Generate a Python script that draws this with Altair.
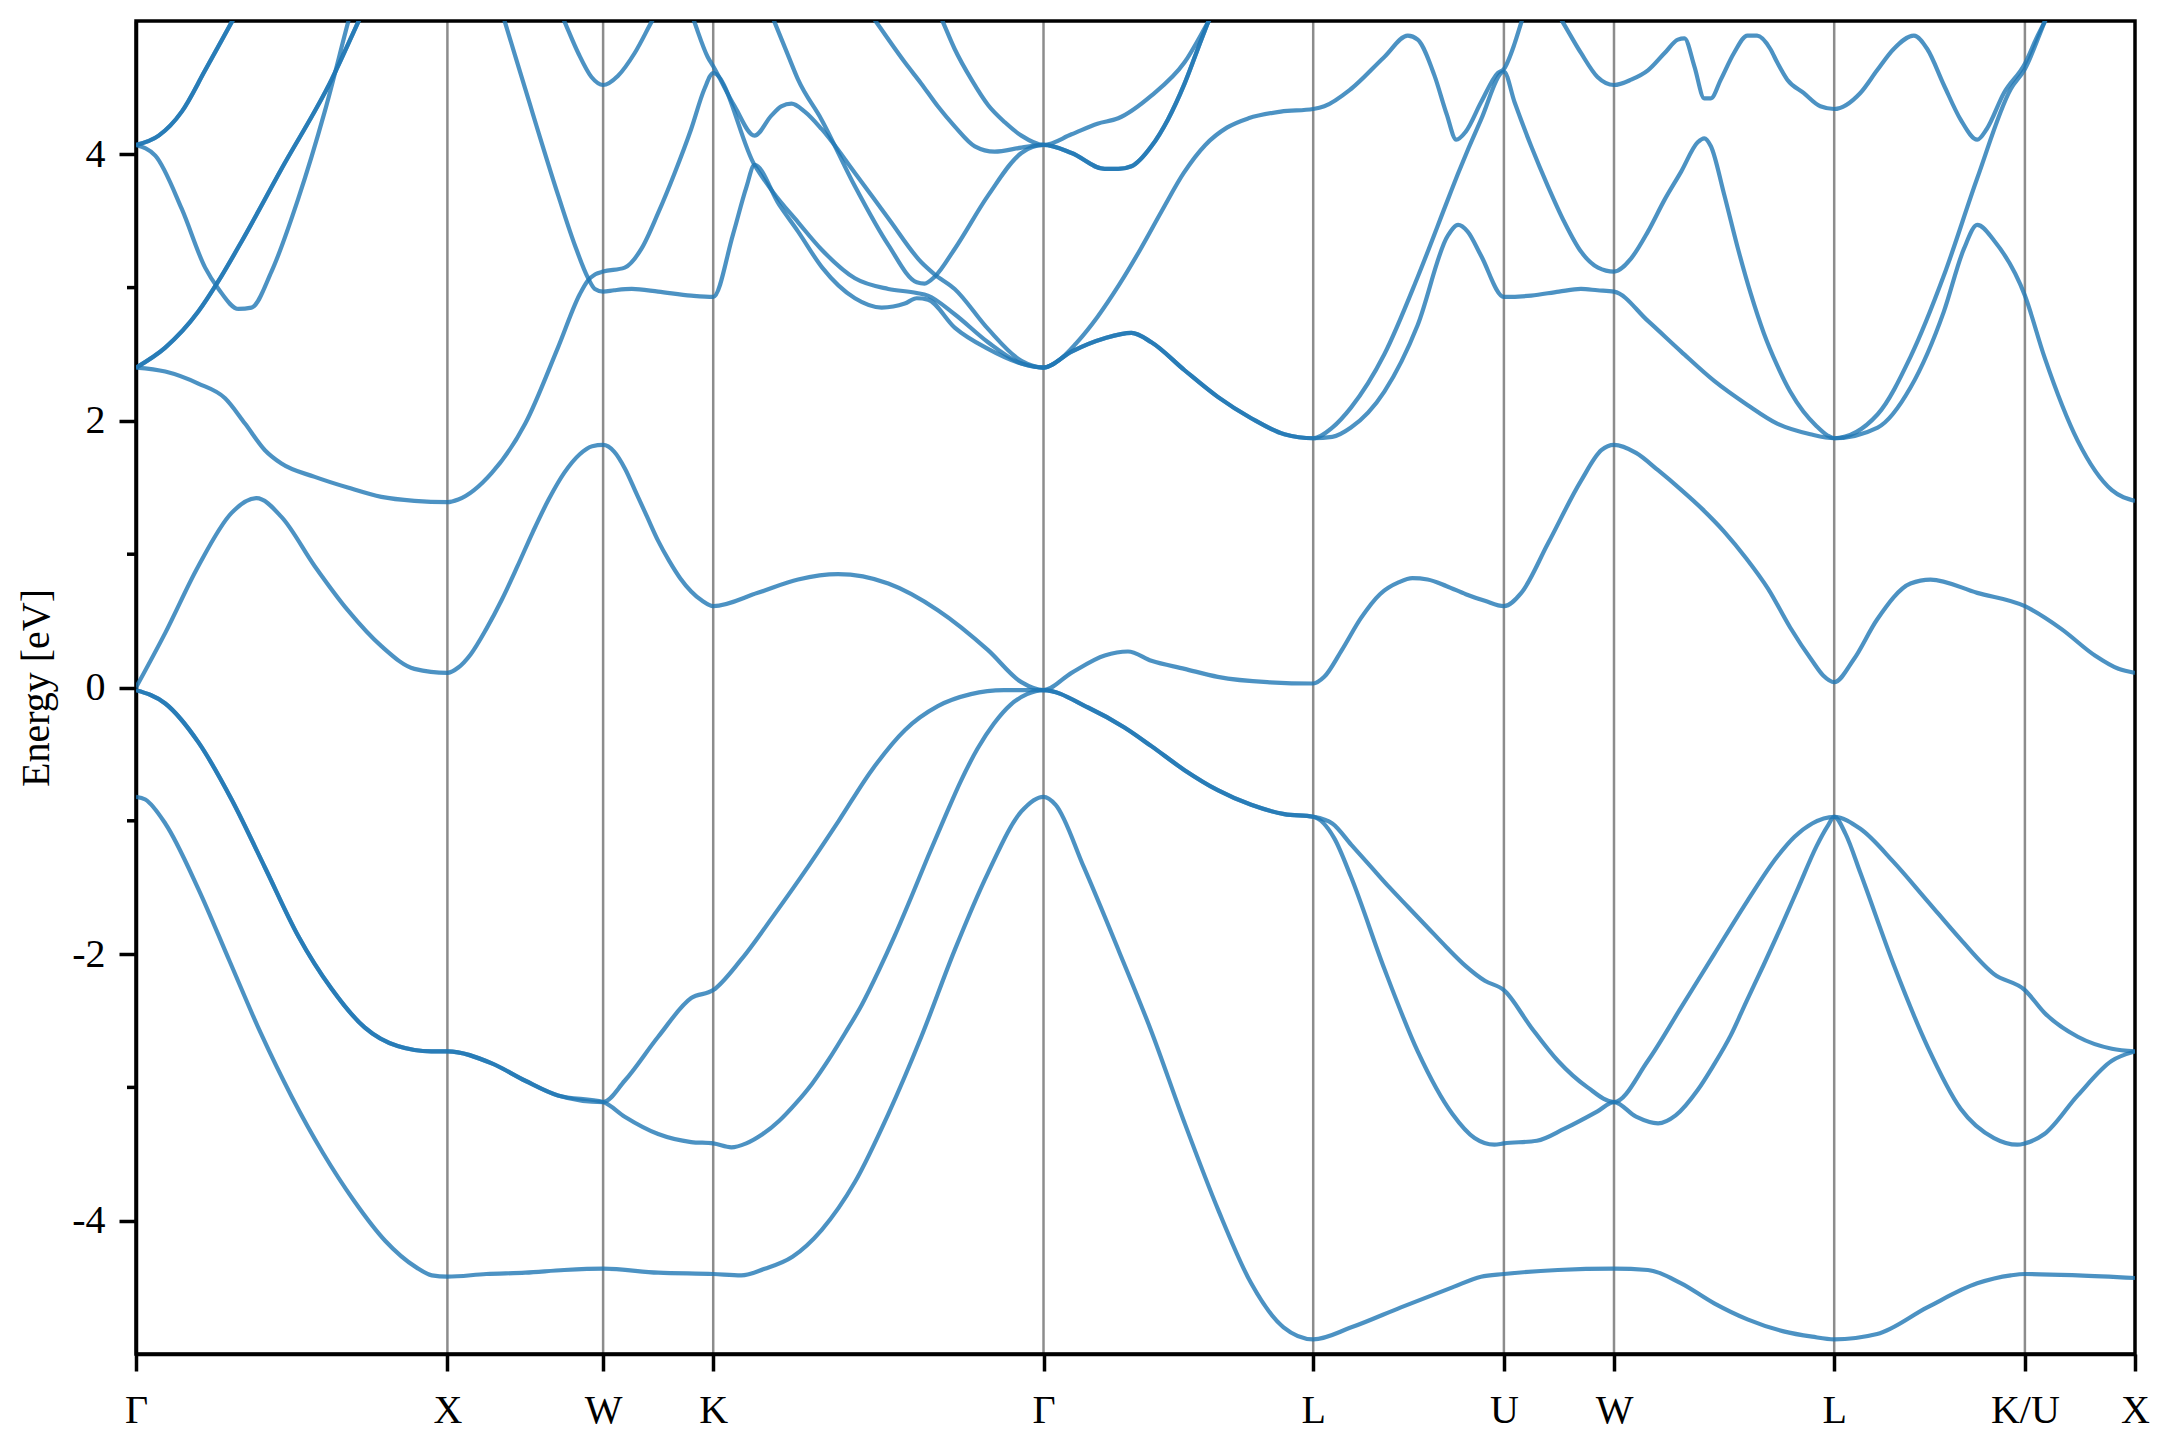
import altair as alt
import pandas as pd

# ---------------- data ----------------
# k-path: Gamma-X-W-K-Gamma-L-U-W-L-K/U-X (segment lengths in 2*pi/a units)
SEGMENT_LENGTHS = [1.0, 0.5, 0.35355, 1.06066, 0.86603, 0.61237, 0.35355, 0.70711, 0.61237, 0.35355]
KPOINT_LABELS = ["Γ", "X", "W", "K", "Γ", "L", "U", "W", "L", "K/U", "X"]
Y_MAJOR = [-4, -2, 0, 2, 4]
Y_MINOR = [-3, -1, 1, 3]

# each band: (path position s, energy eV); s = segment index + fraction along segment
band_1 = [(0.0, -0.82), (0.03, -0.84), (0.094, -1.02), (0.2, -1.51), (0.3, -2.05), (0.4, -2.59), (0.5, -3.07),
          (0.6, -3.49), (0.7, -3.85), (0.8, -4.15), (0.9, -4.35), (0.95, -4.41), (1.0, -4.42),
          (1.25, -4.40), (1.5, -4.39), (1.75, -4.37), (2.0, -4.36), (2.5, -4.39), (3.0, -4.40),
          (3.085, -4.41), (3.156, -4.36), (3.24, -4.27), (3.328, -4.07), (3.429, -3.71), (3.53, -3.20), (3.63, -2.62),
          (3.731, -1.97), (3.832, -1.39), (3.933, -0.93), (4.0, -0.82),
          (4.045, -0.88), (4.15, -1.35), (4.28, -1.98), (4.4, -2.58), (4.52, -3.25), (4.65, -3.93), (4.77, -4.47),
          (4.89, -4.80), (5.0, -4.89),
          (5.2, -4.80), (5.46, -4.65), (5.73, -4.50), (5.88, -4.42), (6.0, -4.40), (6.49, -4.37), (7.0, -4.36),
          (7.154, -4.37), (7.305, -4.47), (7.455, -4.62), (7.606, -4.74), (7.77, -4.83), (7.9, -4.87), (8.0, -4.89),
          (8.225, -4.85), (8.488, -4.65), (8.75, -4.47), (8.926, -4.41), (9.0, -4.40), (9.48, -4.41), (10.0, -4.43)]

band_2 = [(0.0, -0.02), (0.094, -0.12), (0.2, -0.41), (0.307, -0.84), (0.414, -1.35), (0.52, -1.86), (0.628, -2.26),
          (0.734, -2.55), (0.84, -2.69), (0.948, -2.73), (1.0, -2.73),
          (1.285, -2.82), (1.5, -2.95), (1.71, -3.06), (2.0, -3.11),
          (2.196, -3.22), (2.5, -3.35), (2.8, -3.41), (3.0, -3.42),
          (3.055, -3.45), (3.1, -3.42), (3.15, -3.35), (3.2, -3.25), (3.25, -3.12), (3.3, -2.97), (3.35, -2.79),
          (3.4, -2.59), (3.45, -2.38), (3.5, -2.13), (3.55, -1.86), (3.6, -1.57), (3.65, -1.27), (3.7, -0.98),
          (3.75, -0.70), (3.8, -0.46), (3.85, -0.27), (3.9, -0.13), (3.95, -0.05), (4.0, -0.02),
          (4.165, -0.15), (4.3, -0.30), (4.4, -0.44), (4.523, -0.62), (4.646, -0.77), (4.77, -0.88), (4.893, -0.95),
          (5.0, -0.97),
          (5.11, -1.13), (5.198, -1.42), (5.373, -2.11), (5.548, -2.73), (5.73, -3.20), (5.846, -3.38), (5.95, -3.43),
          (6.0, -3.42),
          (6.3, -3.40), (6.55, -3.31), (6.85, -3.18), (7.0, -3.11),
          (7.1, -3.22), (7.2, -3.27), (7.28, -3.21), (7.38, -3.02), (7.45, -2.84), (7.53, -2.61), (7.6, -2.36),
          (7.68, -2.08), (7.76, -1.79), (7.84, -1.49), (7.92, -1.19), (7.97, -1.04), (8.0, -0.97),
          (8.06, -1.10), (8.137, -1.39), (8.312, -2.08), (8.488, -2.69), (8.663, -3.16), (8.838, -3.38), (8.96, -3.43),
          (9.0, -3.42),
          (9.177, -3.35), (9.48, -3.06), (9.79, -2.80), (10.0, -2.73)]

band_3 = [(0.0, -0.02), (0.094, -0.12), (0.2, -0.41), (0.307, -0.84), (0.414, -1.35), (0.52, -1.86), (0.628, -2.26),
          (0.734, -2.55), (0.84, -2.69), (0.948, -2.73), (1.0, -2.73),
          (1.285, -2.82), (1.5, -2.95), (1.71, -3.06), (2.0, -3.11),
          (2.196, -2.95), (2.5, -2.62), (2.8, -2.33), (3.0, -2.27),
          (3.085, -2.04), (3.186, -1.70), (3.28, -1.37), (3.38, -1.00), (3.48, -0.62), (3.58, -0.32), (3.68, -0.14),
          (3.78, -0.05), (3.88, -0.02), (4.0, -0.02),
          (4.165, -0.15), (4.3, -0.30), (4.4, -0.44), (4.523, -0.62), (4.646, -0.77), (4.77, -0.88), (4.893, -0.95),
          (5.0, -0.97),
          (5.1, -1.02), (5.2, -1.18), (5.3, -1.34), (5.4, -1.50), (5.5, -1.65), (5.6, -1.80), (5.7, -1.95),
          (5.8, -2.09), (5.9, -2.20), (6.0, -2.27),
          (6.248, -2.55), (6.49, -2.80), (6.76, -3.00), (7.0, -3.11),
          (7.154, -2.80), (7.305, -2.40), (7.455, -2.00), (7.606, -1.60), (7.741, -1.27), (7.82, -1.12),
          (7.9, -1.02), (8.0, -0.97),
          (8.137, -1.06), (8.312, -1.31), (8.488, -1.60), (8.663, -1.89), (8.838, -2.15), (9.0, -2.27),
          (9.177, -2.44), (9.48, -2.62), (9.79, -2.71), (10.0, -2.73)]

band_4 = [(0.0, 0.0), (0.094, 0.41), (0.2, 0.91), (0.307, 1.31), (0.387, 1.42), (0.467, 1.28), (0.574, 0.91),
          (0.68, 0.58), (0.788, 0.31), (0.894, 0.14), (1.0, 0.11),
          (1.07, 0.15), (1.15, 0.25), (1.25, 0.44), (1.35, 0.66), (1.45, 0.91), (1.55, 1.17), (1.65, 1.41),
          (1.75, 1.61), (1.85, 1.75), (1.93, 1.81), (2.0, 1.82),
          (2.1, 1.77), (2.2, 1.64), (2.3, 1.46), (2.4, 1.28), (2.5, 1.10), (2.6, 0.95), (2.7, 0.82), (2.8, 0.72),
          (2.9, 0.65), (3.0, 0.61),
          (3.135, 0.71), (3.257, 0.81), (3.378, 0.85), (3.53, 0.78), (3.68, 0.58), (3.832, 0.28), (3.933, 0.04),
          (4.0, -0.02),
          (4.104, 0.11), (4.227, 0.24), (4.313, 0.27), (4.4, 0.20), (4.523, 0.14), (4.646, 0.08), (4.83, 0.04),
          (5.0, 0.03),
          (5.058, 0.08), (5.15, 0.28), (5.25, 0.52), (5.35, 0.70), (5.45, 0.79), (5.52, 0.82), (5.6, 0.81),
          (5.7, 0.76), (5.8, 0.70), (5.9, 0.65), (6.0, 0.61),
          (6.158, 0.71), (6.4, 1.08), (6.7, 1.55), (6.885, 1.78), (7.0, 1.82),
          (7.1, 1.76), (7.2, 1.63), (7.3, 1.49), (7.4, 1.34), (7.5, 1.17), (7.6, 0.97), (7.7, 0.74), (7.8, 0.45),
          (7.9, 0.20), (7.95, 0.09), (8.0, 0.04),
          (8.102, 0.21), (8.225, 0.51), (8.4, 0.78), (8.505, 0.81), (8.75, 0.71), (9.0, 0.61),
          (9.33, 0.44), (9.636, 0.24), (9.85, 0.14), (10.0, 0.11)]

band_5 = [(0.0, 2.40), (0.094, 2.37), (0.2, 2.28), (0.286, 2.17), (0.35, 1.98), (0.414, 1.78), (0.467, 1.68),
          (0.574, 1.58), (0.68, 1.50), (0.788, 1.43), (0.894, 1.40), (1.0, 1.39),
          (1.07, 1.41), (1.285, 1.61), (1.5, 1.98), (1.71, 2.55), (1.85, 2.95), (1.9, 3.05), (1.95, 3.10), (2.0, 3.12),
          (2.196, 3.15), (2.347, 3.29), (2.5, 3.56), (2.65, 3.86), (2.8, 4.19), (2.92, 4.49), (3.0, 4.61),
          (3.125, 3.92), (3.18, 3.72), (3.257, 3.49), (3.33, 3.28), (3.429, 3.07), (3.53, 2.99), (3.616, 2.96),
          (3.65, 2.94), (3.731, 2.80), (3.832, 2.59), (3.933, 2.43), (4.0, 2.40),
          (4.06, 2.46), (4.12, 2.58), (4.2, 2.78), (4.28, 3.02), (4.36, 3.29), (4.44, 3.58), (4.52, 3.86),
          (4.6, 4.07), (4.68, 4.20), (4.76, 4.27), (4.88, 4.32), (5.0, 4.34),
          (5.058, 4.36), (5.198, 4.49), (5.373, 4.73), (5.496, 4.89), (5.548, 4.86), (5.636, 4.59), (5.7, 4.30),
          (5.75, 4.11), (5.8, 4.17), (5.88, 4.39), (5.968, 4.61), (6.0, 4.64),
          (6.097, 4.83), (6.158, 4.99), (6.24, 5.2)]

band_6 = [(1.315, 5.2), (1.37, 4.99), (1.5, 4.49), (1.712, 3.69), (1.818, 3.32), (1.904, 3.07), (1.947, 2.99),
          (2.0, 2.97),
          (2.1, 2.98), (2.26, 2.99), (2.5, 2.97), (2.8, 2.94), (3.0, 2.93),
          (3.06, 3.40), (3.1, 3.75), (3.125, 3.92), (3.2, 3.62), (3.257, 3.42), (3.33, 3.15), (3.429, 2.92),
          (3.51, 2.85), (3.58, 2.88), (3.616, 2.92), (3.65, 2.91), (3.731, 2.70), (3.832, 2.54), (3.933, 2.43),
          (4.0, 2.40),
          (4.104, 2.52), (4.227, 2.62), (4.326, 2.66), (4.4, 2.59), (4.523, 2.38), (4.646, 2.18), (4.77, 2.02),
          (4.893, 1.90), (5.0, 1.87),
          (5.1, 1.95), (5.198, 2.10), (5.373, 2.50), (5.548, 3.08), (5.706, 3.66), (5.758, 3.85), (5.88, 4.26),
          (6.0, 4.62),
          (6.097, 4.39), (6.248, 4.06), (6.4, 3.76), (6.55, 3.49), (6.7, 3.27), (6.855, 3.15), (7.0, 3.12),
          (7.078, 3.22), (7.154, 3.42), (7.23, 3.66), (7.305, 3.87), (7.38, 4.09), (7.41, 4.12), (7.44, 4.06),
          (7.5, 3.70), (7.56, 3.31), (7.62, 2.96), (7.68, 2.66), (7.74, 2.42), (7.8, 2.22), (7.86, 2.07),
          (7.92, 1.96), (7.97, 1.89), (8.0, 1.87),
          (8.228, 2.05), (8.4, 2.48), (8.575, 3.09), (8.75, 3.82), (8.926, 4.49), (9.0, 4.64),
          (9.177, 4.99), (9.28, 5.2)]

band_7 = [(2.74, 5.2), (2.83, 4.99), (2.95, 4.73), (3.0, 4.66),
          (3.065, 4.36), (3.125, 4.14), (3.176, 4.29), (3.206, 4.36), (3.237, 4.38), (3.277, 4.32), (3.328, 4.19),
          (3.429, 3.86), (3.53, 3.52), (3.63, 3.19), (3.67, 3.10), (3.731, 2.99), (3.832, 2.69), (3.933, 2.45),
          (4.0, 2.40),
          (4.104, 2.52), (4.227, 2.62), (4.326, 2.66), (4.4, 2.59), (4.523, 2.38), (4.646, 2.18), (4.77, 2.02),
          (4.893, 1.90), (5.0, 1.87),
          (5.1, 1.88), (5.198, 1.95), (5.373, 2.22), (5.548, 2.72), (5.706, 3.39), (5.76, 3.47), (5.81, 3.42),
          (5.88, 3.24), (6.0, 2.93),
          (6.248, 2.94), (6.5, 2.97), (6.7, 2.99), (6.85, 2.98), (7.0, 2.97),
          (7.154, 2.75), (7.305, 2.52), (7.455, 2.30), (7.606, 2.12), (7.741, 1.98), (7.892, 1.90), (8.0, 1.87),
          (8.228, 1.95), (8.4, 2.25), (8.575, 2.82), (8.68, 3.29), (8.75, 3.47), (8.84, 3.35), (9.0, 2.94),
          (9.177, 2.48), (9.48, 1.85), (9.79, 1.48), (10.0, 1.40)]

band_8 = [(0.0, 2.40), (0.094, 2.55), (0.2, 2.82), (0.265, 3.05), (0.34, 3.35), (0.467, 3.89), (0.628, 4.56),
          (0.713, 4.99), (0.754, 5.2)]

band_9 = [(0.0, 4.07), (0.062, 3.99), (0.147, 3.59), (0.222, 3.15), (0.265, 2.99), (0.329, 2.84), (0.371, 2.85),
          (0.435, 3.12), (0.52, 3.66), (0.606, 4.32), (0.681, 4.99), (0.705, 5.2)]

band_10 = [(0.0, 4.07), (0.073, 4.14), (0.147, 4.32), (0.222, 4.63), (0.307, 4.99), (0.357, 5.2)]

band_w = [(1.676, 5.2), (1.754, 4.99), (1.84, 4.76), (1.925, 4.58), (2.0, 4.52), (2.136, 4.59), (2.287, 4.76),
          (2.438, 4.99), (2.58, 5.2)]

band_a = [(3.15, 5.2), (3.186, 4.99), (3.227, 4.74), (3.257, 4.56), (3.328, 4.26), (3.429, 3.76), (3.53, 3.32),
          (3.616, 3.04), (3.64, 3.03), (3.67, 3.08), (3.731, 3.29), (3.832, 3.69), (3.933, 4.01), (4.0, 4.07),
          (4.104, 4.01), (4.227, 3.89), (4.277, 3.89), (4.326, 3.91), (4.4, 4.06), (4.461, 4.26), (4.523, 4.53),
          (4.585, 4.86), (4.61, 4.99), (4.65, 5.2)]

band_e = [(3.434, 5.2), (3.494, 4.99), (3.58, 4.69), (3.63, 4.53), (3.68, 4.36), (3.731, 4.21), (3.792, 4.06),
          (3.852, 4.02), (3.933, 4.05), (4.0, 4.07),
          (4.104, 4.01), (4.227, 3.89), (4.277, 3.89), (4.326, 3.91), (4.4, 4.06), (4.461, 4.26), (4.523, 4.53),
          (4.585, 4.86), (4.61, 4.99), (4.65, 5.2)]

band_f = [(3.66, 5.2), (3.696, 4.99), (3.731, 4.79), (3.782, 4.56), (3.832, 4.37), (3.883, 4.24), (3.933, 4.14),
          (4.0, 4.07), (4.104, 4.15), (4.2, 4.23), (4.277, 4.27), (4.4, 4.44), (4.523, 4.69), (4.61, 4.99),
          (4.67, 5.2)]

band_top = [(6.386, 5.2), (6.536, 4.99), (6.7, 4.76), (6.85, 4.58), (7.0, 4.52),
            (7.078, 4.56), (7.154, 4.63), (7.23, 4.76), (7.29, 4.86), (7.32, 4.87), (7.365, 4.66), (7.41, 4.42),
            (7.44, 4.42), (7.485, 4.56), (7.545, 4.76), (7.606, 4.89), (7.65, 4.89), (7.71, 4.79), (7.741, 4.69),
            (7.787, 4.56), (7.861, 4.46), (7.937, 4.36), (8.0, 4.34),
            (8.137, 4.46), (8.225, 4.63), (8.312, 4.79), (8.418, 4.89), (8.488, 4.79), (8.575, 4.52), (8.663, 4.26),
            (8.75, 4.11), (8.8, 4.19), (8.89, 4.46), (9.0, 4.68),
            (9.116, 4.89), (9.177, 4.99), (9.31, 5.2)]

# degenerate bands appear twice (drawn on top of each other)
BANDS = {
    "1": band_1, "2": band_2, "3": band_3, "4": band_4, "5": band_5, "6": band_6, "7": band_7,
    "8a": band_8, "8b": band_8, "9": band_9, "10a": band_10, "10b": band_10,
    "w": band_w, "a": band_a, "e": band_e, "f": band_f, "top": band_top,
}

# ---------------- build tables ----------------
kpts = [0.0]
for seg in SEGMENT_LENGTHS:
    kpts.append(kpts[-1] + seg)


def path_k(s):
    i = min(int(s), len(SEGMENT_LENGTHS) - 1)
    return kpts[i] + (s - i) * SEGMENT_LENGTHS[i]


rows = []
for name, pts in BANDS.items():
    for j, (s, e) in enumerate(pts):
        rows.append({"band": name, "i": j, "k": path_k(s), "E": e})
df = pd.DataFrame(rows)

W, H = 1999, 1333
FONT = "Liberation Serif"
FS = 40

# label expression for high-symmetry tick labels
expr = f"'{KPOINT_LABELS[-1]}'"
for idx in range(len(kpts) - 2, -1, -1):
    mid = (kpts[idx] + kpts[idx + 1]) / 2
    expr = f"datum.value < {mid:.5f} ? '{KPOINT_LABELS[idx]}' : ({expr})"

xscale = alt.Scale(domain=[0, kpts[-1]], nice=False, zero=False)
yscale = alt.Scale(domain=[-5, 5], nice=False, zero=False)

xaxis = alt.Axis(values=kpts, labelExpr=expr, tickSize=17, tickWidth=3.5, tickColor="black",
                 domainColor="black", domainWidth=3.5, labelFont=FONT, labelFontSize=FS, labelColor="black",
                 labelPadding=19, grid=False, title=None, labelFlush=False, labelOverlap=False, labelBound=False)
yaxis = alt.Axis(values=Y_MAJOR, labelExpr="'' + datum.value", tickSize=17, tickWidth=3.5, tickColor="black",
                 domainColor="black", domainWidth=3.5, labelFont=FONT, labelFontSize=FS, labelColor="black",
                 labelPadding=14, grid=False, title="Energy [eV]", titleFont=FONT, titleFontSize=FS,
                 titleFontWeight="normal", titleColor="black", titlePadding=15, labelFlush=False)

xenc = alt.X("k:Q", scale=xscale, axis=xaxis)
yenc = alt.Y("E:Q", scale=yscale, axis=yaxis)

vlines = alt.Chart(pd.DataFrame({"k": kpts[1:-1]})).mark_rule(
    color="black", strokeWidth=2.5, opacity=0.45
).encode(x=xenc, y=alt.value(0), y2=alt.value(H))

minor = alt.Chart(pd.DataFrame({"E": Y_MINOR})).mark_rule(
    color="black", strokeWidth=3.5
).encode(y=yenc, x=alt.value(-9), x2=alt.value(0))

lines = alt.Chart(df).mark_line(
    interpolate="monotone", clip=True, color="#1f77b4", strokeWidth=4.2, strokeOpacity=0.8
).encode(x=xenc, y=yenc, detail="band:N", order="i:Q")

chart = alt.layer(vlines, lines, minor).properties(
    width=W, height=H,
    autosize=alt.AutoSizeParams(type="none"),
    padding={"left": 128, "top": 13, "right": 16, "bottom": 76},
    background="white",
).configure_view(stroke="black", strokeWidth=3.5)

chart.save("out.html", embed_options={"renderer": "svg", "actions": False})
